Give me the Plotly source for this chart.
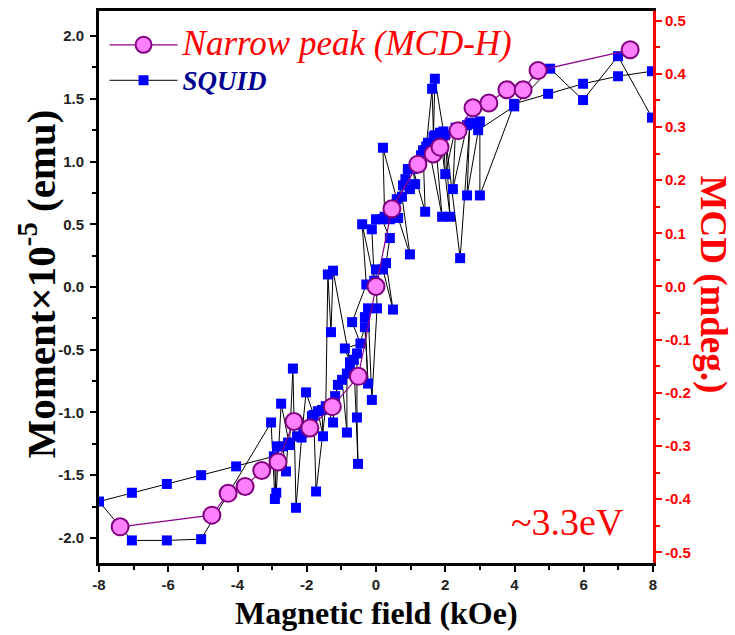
import plotly.graph_objects as go

# MCD narrow peak (right axis, mdeg.)
mcd_field = [-7.39, -4.74, -4.27, -3.78, -3.30, -2.83, -2.37, -1.91, -1.26, -0.51,
             0.00, 0.46, 1.21, 1.65, 1.85, 2.37, 2.80, 3.26, 3.78, 4.25, 4.68, 7.34]
mcd_value = [-0.452, -0.430, -0.389, -0.376, -0.346, -0.330, -0.254, -0.266, -0.226, -0.169,
             0.000, 0.146, 0.230, 0.249, 0.262, 0.293, 0.336, 0.345, 0.370, 0.370, 0.406, 0.445]

# SQUID moment (left axis, x1e-5 emu), in measurement order
squid_field = [7.97, 6.99, 5.98, 5.03, 3.99, 2.95, 2.80, 2.63, 2.22, 2.30, 2.00, 1.95, 1.70, 1.66,
               1.62, 1.45, 1.30, 0.92, 0.85, 0.60, 0.20, 0.25, 0.00, -0.12, -0.05, -0.40, -0.28,
               -0.69, -0.45, -0.90, -0.75, -1.24, -1.30, -1.39, -1.45, -1.73, -1.80, -2.02, -2.15,
               -2.31, -2.40, -2.50, -2.74, -2.88, -2.95, -4.04, -5.05, -6.04, -7.05, -8.00,
               -7.05, -6.04, -5.05, -3.03, -2.92, -2.86, -2.69, -2.60, -2.54, -2.28, -2.10, -1.85,
               -1.68, -1.53, -1.56, -1.42, -1.24, -1.18, -1.10, -0.98, -0.84, -0.84, -0.75, -0.64,
               -0.52, -0.55, -0.55, -0.32, -0.23, -0.32, -0.23, -0.12, 0.03, 0.00, 0.20, 0.49,
               0.29, 0.40, 0.17, 0.40, 0.64, 0.98, 0.75, 0.78, 0.98, 1.13, 1.07, 1.42, 1.36, 1.50,
               1.91, 1.70, 1.85, 2.14, 2.00, 2.43, 2.71, 2.63, 3.00, 3.00, 3.99, 4.97, 5.98, 6.99, 7.97]
squid_moment = [1.35, 1.84, 1.49, 1.74, 1.44, 1.25, 1.30, 1.29, 0.78, 1.27, 0.90, 1.24, 1.66, 1.20,
                1.58, 1.12, 1.05, 0.94, 0.86, 0.70, 1.11, 0.56, 0.54, 0.46, 0.05, 0.50, 0.02,
                -0.28, -0.45, -0.49, -0.60, 0.13, -0.36, 0.10, -0.95, -1.63, -1.02, -0.84, -1.20,
                -1.76, -0.65, -1.26, -0.93, -1.64, -1.35, -1.43, -1.50, -1.57, -1.64, -1.71,
                -2.02, -2.02, -2.01, -1.08, -1.69, -1.27, -1.27, -1.47, -1.24, -1.19, -1.16, -1.03,
                -0.99, -1.19, -0.98, -0.96, -1.08, -0.87, -0.78, -0.74, -1.16, -0.69, -0.64, -0.58,
                -1.41, -1.04, -0.53, -0.32, -0.77, -0.24, -0.17, -0.90, -0.17, 0.14, 0.14, -0.18,
                0.19, 0.39, 0.54, 0.54, 0.55, 0.26, 0.72, 0.81, 0.78, 0.82, 0.94, 0.60, 1.09, 1.15,
                0.56, 1.21, 1.23, 0.56, 1.21, 0.23, 1.31, 0.73, 1.32, 0.73, 1.46, 1.54, 1.62, 1.68, 1.72]

x_ticks = [-8, -6, -4, -2, 0, 2, 4, 6, 8]
left_ticks = [-2.0, -1.5, -1.0, -0.5, 0.0, 0.5, 1.0, 1.5, 2.0]
right_ticks = [-0.5, -0.4, -0.3, -0.2, -0.1, 0.0, 0.1, 0.2, 0.3, 0.4, 0.5]

W, H = 735, 635
ML, MR, MT, MB = 99, 82, 8, 72
PW, PH = W - ML - MR, H - MT - MB


def px(xp):
    return (xp - ML) / PW


def py(yp):
    return (H - MB - yp) / PH


fig = go.Figure()

fig.add_trace(go.Scatter(
    x=mcd_field, y=mcd_value, yaxis="y2", mode="lines+markers",
    name="<i><span style='color:#FF0000;font-size:35px'>Narrow peak (MCD-H)</span></i>",
    line=dict(color="#8B008B", width=1.2),
    marker=dict(symbol="circle", size=17, color="#FF80FF",
                line=dict(color="#800080", width=2)),
))

fig.add_trace(go.Scatter(
    x=squid_field, y=squid_moment, mode="lines+markers",
    name="<b><i><span style='color:#000090;font-size:27px'>SQUID</span></i></b>",
    line=dict(color="black", width=1),
    marker=dict(symbol="square", size=10, color="#0000FF", line=dict(width=0)),
))

tickfont = dict(family="Liberation Sans", size=15, color="#222222", weight="bold")

fig.update_layout(
    width=W, height=H,
    margin=dict(l=ML, r=MR, t=MT, b=MB),
    paper_bgcolor="white", plot_bgcolor="white",
    showlegend=True,
    legend=dict(x=0.01, y=0.98, xanchor="left", yanchor="top",
                bgcolor="rgba(0,0,0,0)", font=dict(family="Liberation Serif", size=25),
                tracegroupgap=0, itemwidth=68),
    xaxis=dict(range=[-8, 8], tickvals=x_ticks, ticktext=[str(v) for v in x_ticks],
               showgrid=False, zeroline=False, showline=True, linecolor="black", linewidth=3,
               mirror=True, ticks="outside", ticklen=6, tickwidth=2, tickcolor="black",
               minor=dict(dtick=1, ticks="outside", ticklen=4, tickwidth=2, tickcolor="black"),
               tickfont=tickfont),
    yaxis=dict(range=[-2.2, 2.2], tickvals=left_ticks,
               ticktext=["%.1f" % v for v in left_ticks],
               showgrid=False, zeroline=False, showline=True, linecolor="black", linewidth=3,
               ticks="outside", ticklen=6, tickwidth=2, tickcolor="black",
               minor=dict(dtick=0.25, ticks="outside", ticklen=4, tickwidth=2, tickcolor="black"),
               tickfont=tickfont, ticklabelstandoff=3),
    yaxis2=dict(range=[-0.52, 0.518], overlaying="y", side="right", tickvals=right_ticks,
                ticktext=["%.1f" % v for v in right_ticks],
                showgrid=False, zeroline=False, showline=True, linecolor="#FF0000", linewidth=3,
                ticks="outside", ticklen=6, tickwidth=2, tickcolor="#FF0000",
                minor=dict(dtick=0.05, ticks="outside", ticklen=4, tickwidth=2, tickcolor="#FF0000"),
                tickfont=dict(family="Liberation Sans", size=15, color="#FF0000", weight="bold")),
)

fig.add_annotation(text="<b>Moment×10<sup>-5</sup> (emu)</b>", xref="paper", yref="paper",
                   x=px(37), y=py(283), xanchor="center", yanchor="middle", textangle=-90,
                   showarrow=False, font=dict(family="Liberation Serif", size=41, color="black"))
fig.add_annotation(text="<b>MCD (mdeg.)</b>", xref="paper", yref="paper",
                   x=px(713), y=py(283), xanchor="center", yanchor="middle", textangle=90,
                   showarrow=False, font=dict(family="Liberation Serif", size=37, color="#FF0000"))
fig.add_annotation(text="<b>Magnetic field (kOe)</b>", xref="paper", yref="paper",
                   x=px(376), y=py(613), xanchor="center", yanchor="middle",
                   showarrow=False, font=dict(family="Liberation Serif", size=32, color="black"))
fig.add_annotation(text="~3.3eV", xref="paper", yref="paper",
                   x=px(567), y=py(522), xanchor="center", yanchor="middle",
                   showarrow=False, font=dict(family="Liberation Serif", size=38, color="#FF0000"))

fig.write_html("out.html", config={"displayModeBar": False},
               post_script="document.body.style.margin='0px';")
